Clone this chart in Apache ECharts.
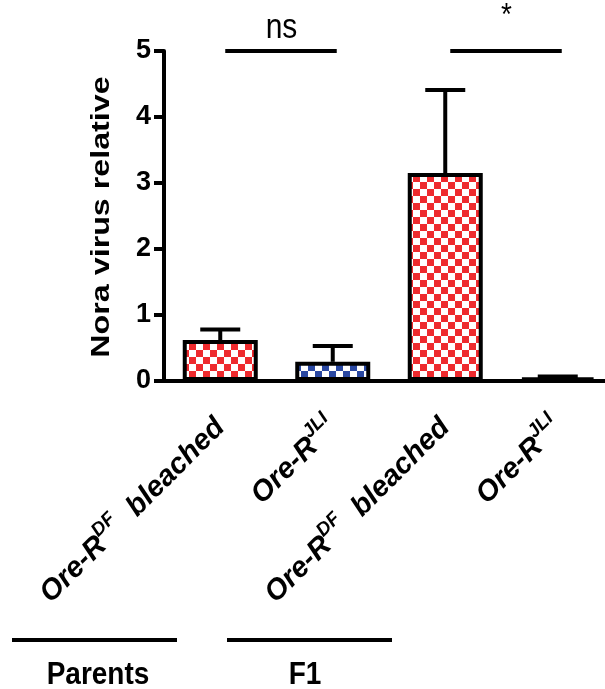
<!DOCTYPE html>
<html>
<head>
<meta charset="utf-8">
<script src="https://cdn.jsdelivr.net/npm/echarts@6/dist/echarts.min.js"></script>
<style>
  html, body { margin: 0; padding: 0; background: #fff; }
  #chart { width: 605px; height: 689px; }
</style>
</head>
<body>
<div id="chart"></div>
<script>
// 数据
const categories = ['Parents DF bleached', 'Parents JLI', 'F1 DF bleached', 'F1 JLI'];
const labelBase = ['Ore-R', 'Ore-R', 'Ore-R', 'Ore-R'];
const labelSup = ['DF', 'JLI', 'DF', 'JLI'];
const labelTail = ['  bleached', '', '  bleached', ''];
const means = [0.62, 0.29, 3.15, 0.05];
const errors = [0.16, 0.24, 1.26, 0.02];
const barColors = ['#ee2a2e', '#2a48a2', '#ee2a2e', '#2a48a2'];
const yMax = 5;
const yStep = 1;
const yTitle = 'Nora virus relative';
const sigFrom = [0, 2];
const sigTo = [1, 3];
const sigText = ['ns', '*'];
const sigLevel = 5;
const groupNames = ['Parents', 'F1'];

const FONT = '"Liberation Sans", Arial, Helvetica, sans-serif';

// 棋盘格填充
function checker(color) {
  const c = document.createElement('canvas');
  c.width = 14; c.height = 14;
  const ctx = c.getContext('2d');
  ctx.fillStyle = '#fff';
  ctx.fillRect(0, 0, 14, 14);
  ctx.fillStyle = color;
  ctx.fillRect(0, 0, 7, 7);
  ctx.fillRect(7, 7, 7, 7);
  return c;
}

const chart = echarts.init(document.getElementById('chart'));

const option = {
  animation: false,
  backgroundColor: '#fff',
  grid: { left: 164, top: 51, bottom: 308, width: 450, containLabel: false, outerBoundsMode: 'none' },
  xAxis: {
    type: 'category',
    data: categories,
    axisLine: { lineStyle: { color: '#000', width: 4 } },
    axisTick: { alignWithLabel: true, length: 11, lineStyle: { color: '#000', width: 4 } },
    axisLabel: {
      interval: 0,
      rotate: 45,
      margin: 42,
      formatter: (v, i) => `{b|${labelBase[i]}}{s|${labelSup[i]}}` + (labelTail[i] ? `{b|${labelTail[i]}}` : ''),
      rich: {
        b: { fontFamily: FONT, fontSize: 29, lineHeight: 40, fontWeight: 'bold', fontStyle: 'italic', color: '#000' },
        s: { fontFamily: FONT, fontSize: 19, lineHeight: 20, fontWeight: 'bold', fontStyle: 'italic', color: '#000', verticalAlign: 'top' }
      }
    }
  },
  yAxis: {
    type: 'value',
    min: 0,
    max: yMax,
    interval: yStep,
    splitLine: { show: false },
    axisLine: { show: true, lineStyle: { color: '#000', width: 4 } },
    axisTick: { show: true, length: 10, lineStyle: { color: '#000', width: 4 } },
    axisLabel: { margin: 13, fontFamily: FONT, fontSize: 27, fontWeight: 'bold', color: '#000' }
  },
  series: [
    {
      type: 'bar',
      barWidth: 75,
      data: means.map((m, i) => ({
        value: m,
        itemStyle: {
          color: { image: checker(barColors[i]), repeat: 'repeat' },
          borderColor: '#000',
          borderWidth: 4
        }
      })),
      z: 2
    },
    {
      // 误差线
      type: 'custom',
      data: means.map((m, i) => [i, m, m + errors[i]]),
      z: 3,
      renderItem: (params, api) => {
        const base = api.coord([api.value(0), api.value(1)]);
        const top = api.coord([api.value(0), api.value(2)]);
        const style = { stroke: '#000', lineWidth: 4 };
        return {
          type: 'group',
          children: [
            { type: 'line', shape: { x1: base[0], y1: base[1], x2: top[0], y2: top[1] }, style },
            { type: 'line', shape: { x1: top[0] - 20, y1: top[1], x2: top[0] + 20, y2: top[1] }, style }
          ]
        };
      }
    },
    {
      // 显著性标记
      type: 'custom',
      data: sigFrom.map((f, i) => [f, sigTo[i], sigLevel]),
      z: 3,
      renderItem: (params, api) => {
        const p0 = api.coord([api.value(0), api.value(2)]);
        const p1 = api.coord([api.value(1), api.value(2)]);
        const star = params.dataIndex === 1;
        return {
          type: 'group',
          children: [
            { type: 'line', shape: { x1: p0[0] + 5, y1: p0[1], x2: p1[0] + 4, y2: p1[1] },
              style: { stroke: '#000', lineWidth: 4 } },
            { type: 'text', x: (p0[0] + p1[0]) / 2 + 5, y: p0[1] - (star ? 19 : 23),
              scaleY: 1.15,
              style: { text: sigText[params.dataIndex], fontFamily: FONT,
                       fontSize: star ? 28 : 30,
                       fill: '#000', align: 'center', verticalAlign: star ? 'bottom' : 'middle' } }
          ]
        };
      }
    }
  ],
  graphic: [
    { type: 'text', x: 102, y: 217, rotation: Math.PI / 2, scaleX: 1.24,
      style: { text: yTitle, fontFamily: FONT, fontSize: 26, fontWeight: 'bold', fill: '#000', align: 'center', verticalAlign: 'middle' } },
    { type: 'line', shape: { x1: 12, y1: 640, x2: 177, y2: 640 }, style: { stroke: '#000', lineWidth: 4 } },
    { type: 'line', shape: { x1: 227, y1: 640, x2: 392, y2: 640 }, style: { stroke: '#000', lineWidth: 4 } },
    { type: 'text', x: 98, y: 676, scaleY: 1.1, style: { text: groupNames[0], fontFamily: FONT, fontSize: 28, fontWeight: 'bold', fill: '#000', align: 'center', verticalAlign: 'middle' } },
    { type: 'text', x: 305, y: 676, scaleY: 1.1, style: { text: groupNames[1], fontFamily: FONT, fontSize: 28, fontWeight: 'bold', fill: '#000', align: 'center', verticalAlign: 'middle' } }
  ]
};

chart.setOption(option);
</script>
</body>
</html>
